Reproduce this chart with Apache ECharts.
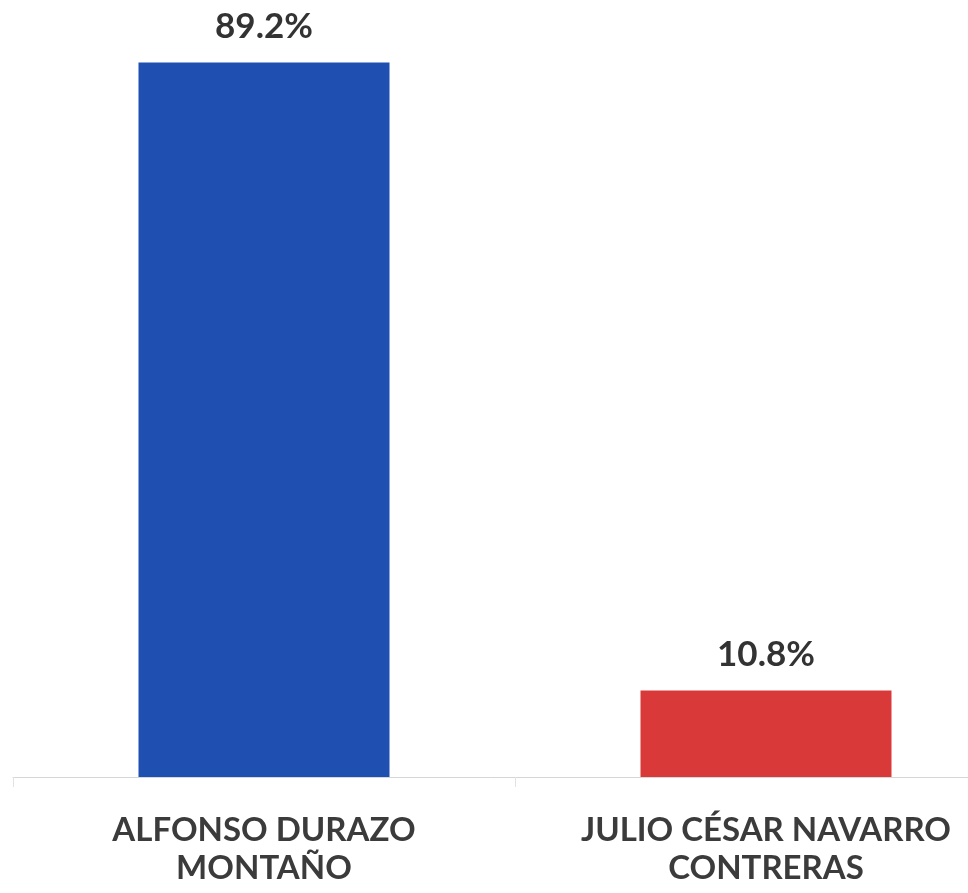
<!DOCTYPE html>
<html>
<head>
<meta charset="utf-8">
<script src="https://cdn.jsdelivr.net/npm/echarts@6/dist/echarts.min.js"></script>
<style>
  html, body { margin: 0; padding: 0; background: #ffffff; }
  #chart { width: 968px; height: 893px; }
</style>
</head>
<body>
<div id="chart"></div>
<script>
// Candidates and their vote share (%)
const candidates = ['ALFONSO DURAZO\nMONTAÑO', 'JULIO CÉSAR NAVARRO\nCONTRERAS'];
const shares = [89.2, 10.8];
const barColors = ['#1f50b1', '#d93a39'];

const chart = echarts.init(document.getElementById('chart'));
chart.setOption({
  backgroundColor: '#ffffff',
  animation: false,
  grid: {
    left: 13, width: 1004, top: 0, bottom: 116,
    containLabel: false,
    outerBoundsMode: 'none'
  },
  xAxis: {
    type: 'category',
    data: candidates,
    axisLine: { show: true, lineStyle: { color: '#d6d6d6', width: 1 } },
    axisTick: { show: true, alignWithLabel: false, length: 10, lineStyle: { color: '#e2e2e2' } },
    axisLabel: {
      interval: 0,
      margin: 34,
      color: '#3b3b3b',
      fontFamily: 'Lato',
      fontWeight: 'bold',
      fontSize: 33,
      lineHeight: 38
    }
  },
  yAxis: {
    type: 'value',
    min: 0,
    max: 97,
    show: false,
    splitLine: { show: false }
  },
  series: [{
    type: 'bar',
    barWidth: '50%',
    data: shares.map((v, i) => ({ value: v, itemStyle: { color: barColors[i] } })),
    label: {
      show: true,
      position: 'top',
      distance: 18,
      color: '#333333',
      fontFamily: 'Lato',
      fontWeight: 'bold',
      fontSize: 35,
      formatter: p => p.value.toFixed(1) + '%'
    }
  }]
});
</script>
</body>
</html>
